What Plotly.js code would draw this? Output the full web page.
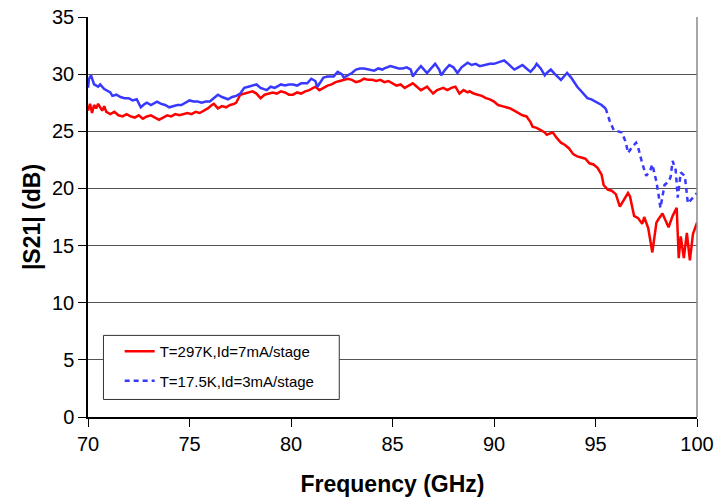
<!DOCTYPE html>
<html>
<head>
<meta charset="utf-8">
<script src="https://cdn.plot.ly/plotly-3.0.1.min.js"></script>
<style>html,body{margin:0;padding:0;background:#fff;}#chart{width:716px;height:497px;}</style>
</head>
<body>
<div id="chart"></div>
<script>
const redFreq = [70.0,70.1,70.2,70.3,70.4,70.5,70.6,70.7,70.8,70.9,71.1,71.3,71.5,71.7,71.9,72.1,72.3,72.5,72.7,72.9,73.1,73.3,73.5,73.7,73.9,74.1,74.3,74.5,74.7,74.9,75.1,75.3,75.5,75.7,75.9,76.1,76.2,76.4,76.6,76.8,77.0,77.2,77.3,77.5,77.7,77.9,78.1,78.3,78.5,78.7,78.9,79.1,79.3,79.5,79.7,79.9,80.1,80.3,80.5,80.7,80.9,81.1,81.2,81.4,81.6,81.8,82.0,82.2,82.4,82.6,82.8,83.0,83.2,83.4,83.6,83.8,84.0,84.2,84.4,84.6,84.8,85.0,85.2,85.4,85.6,85.8,86.0,86.2,86.4,86.6,86.7,86.9,87.0,87.2,87.4,87.5,87.7,87.9,88.1,88.3,88.5,88.7,88.8,89.0,89.2,89.4,89.6,89.8,90.0,90.2,90.4,90.6,90.8,91.0,91.2,91.4,91.6,91.8,91.9,92.1,92.3,92.5,92.6,92.8,92.9,93.1,93.3,93.5,93.7,93.9,94.1,94.3,94.5,94.7,94.9,95.1,95.3,95.4,95.6,95.8,96.0,96.2,96.4,96.6,96.7,96.9,97.1,97.3,97.4,97.6,97.8,98.0,98.1,98.3,98.4,98.6,98.8,99.0,99.1,99.2,99.35,99.5,99.65,99.8,100.0];
const redS21 = [26.8,27.4,26.6,27.3,27.0,27.4,27.1,26.8,27.2,26.7,26.5,26.7,26.4,26.3,26.5,26.3,26.2,26.4,26.1,26.3,26.4,26.2,26.0,26.2,26.4,26.3,26.5,26.4,26.5,26.6,26.5,26.7,26.6,26.8,27.0,27.3,27.4,27.0,27.2,27.1,27.3,27.4,27.5,28.2,28.3,28.4,28.5,28.3,27.9,28.2,28.3,28.4,28.3,28.5,28.4,28.2,28.2,28.4,28.3,28.5,28.6,28.8,28.9,28.6,28.8,29.0,29.1,29.3,29.4,29.5,29.6,29.5,29.3,29.4,29.6,29.5,29.5,29.4,29.5,29.3,29.4,29.2,29.0,29.1,28.8,29.0,29.2,28.9,28.6,28.8,28.9,28.5,28.3,28.6,28.7,28.8,28.6,28.8,28.9,28.3,28.6,28.4,28.5,28.3,28.2,28.1,27.9,27.8,27.6,27.3,27.2,27.1,27.0,26.8,26.6,26.4,26.3,25.8,25.4,25.3,25.1,24.9,24.7,24.8,24.9,24.4,24.0,23.8,23.5,23.0,22.8,22.7,22.6,22.2,22.1,21.8,21.2,20.3,19.9,19.8,19.5,18.4,19.0,19.6,19.3,17.6,17.4,16.9,17.5,16.5,14.4,17.0,17.3,17.8,17.4,16.6,17.6,18.3,13.9,15.8,13.9,16.1,13.7,16.0,17.0];

const blueFreq = [70.0,70.05,70.15,70.3,70.5,70.6,70.8,70.9,71.1,71.2,71.4,71.6,71.8,72.0,72.2,72.4,72.6,72.8,72.9,73.1,73.3,73.4,73.6,73.8,74.0,74.2,74.4,74.6,74.8,75.0,75.2,75.4,75.6,75.8,76.0,76.2,76.4,76.6,76.9,77.1,77.3,77.5,77.7,77.9,78.1,78.3,78.5,78.7,78.8,79.0,79.2,79.4,79.5,79.7,79.9,80.1,80.3,80.5,80.7,80.8,81.0,81.2,81.3,81.5,81.6,81.8,82.0,82.1,82.3,82.5,82.6,82.8,83.0,83.2,83.4,83.6,83.8,84.1,84.3,84.5,84.6,84.9,85.1,85.3,85.5,85.7,85.9,86.0,86.2,86.4,86.5,86.7,86.9,87.1,87.3,87.4,87.6,87.8,88.0,88.2,88.4,88.7,88.9,89.1,89.3,89.5,89.8,90.0,90.2,90.5,90.7,91.0,91.2,91.4,91.6,91.8,92.0,92.1,92.3,92.5,92.6,92.8,93.0,93.3,93.5,93.6,93.8,94.1,94.3,94.6,94.8,95.1,95.3,95.5,95.7,95.9,96.1,96.3,96.5,96.6,96.8,97.0,97.1,97.3,97.5,97.7,97.8,98.0,98.1,98.2,98.4,98.6,98.7,98.8,98.95,99.05,99.2,99.4,99.55,99.8,100.0];
const blueS21 = [28.8,29.6,29.9,29.1,28.9,29.1,28.7,28.6,28.4,28.1,28.2,28.0,27.9,27.9,27.7,27.8,27.1,27.4,27.5,27.3,27.5,27.6,27.4,27.3,27.1,27.2,27.3,27.3,27.5,27.7,27.6,27.6,27.5,27.6,27.6,27.9,28.2,28.0,27.8,28.0,28.1,28.3,28.8,28.9,29.0,29.1,28.8,28.7,28.6,28.9,28.8,29.0,29.1,29.0,29.1,29.1,29.0,29.2,29.2,29.2,29.6,29.4,28.9,29.4,29.7,29.8,29.8,29.8,30.2,30.0,29.7,29.9,30.1,30.4,30.5,30.5,30.4,30.3,30.5,30.4,30.5,30.7,30.6,30.5,30.5,30.6,30.4,29.8,30.3,30.7,30.5,30.1,30.5,30.9,30.4,29.9,30.4,30.8,30.6,30.1,30.6,31.0,30.8,30.9,30.7,30.8,30.9,30.9,31.0,31.2,30.9,30.4,30.6,30.8,30.5,30.2,30.6,30.9,30.5,29.9,30.1,30.4,30.0,29.5,29.9,30.1,29.7,28.9,28.5,27.9,27.8,27.5,27.3,27.0,25.9,25.1,25.0,24.9,24.0,23.1,23.6,24.0,23.6,22.2,21.1,21.6,22.1,20.6,19.5,18.3,20.3,20.6,21.0,22.4,21.6,19.2,21.4,21.1,18.7,19.2,19.6];

const blueDashStart = 95.5;
const xTicks = [70, 75, 80, 85, 90, 95, 100];
const yTicks = [0, 5, 10, 15, 20, 25, 30, 35];
const seriesNames = ["T=297K,Id=7mA/stage", "T=17.5K,Id=3mA/stage"];

const splitIdx = blueFreq.indexOf(blueDashStart);
const FONT = "Liberation Sans, Arial, sans-serif";

const traces = [
  {x: redFreq, y: redS21, type: "scatter", mode: "lines", name: seriesNames[0],
   line: {color: "#ff0000", width: 2.5}, legendgroup: "r"},
  {x: blueFreq.slice(0, splitIdx + 1), y: blueS21.slice(0, splitIdx + 1), type: "scatter", mode: "lines",
   name: seriesNames[1], showlegend: false, legendgroup: "b",
   line: {color: "#3838ff", width: 2.5}},
  {x: blueFreq.slice(splitIdx), y: blueS21.slice(splitIdx), type: "scatter", mode: "lines",
   name: seriesNames[1], legendgroup: "b",
   line: {color: "#3838ff", width: 2.5, dash: "5px,4px"}}
];

const layout = {
  width: 716, height: 497,
  margin: {l: 88, r: 19, t: 17, b: 80, pad: 0},
  paper_bgcolor: "#ffffff", plot_bgcolor: "#ffffff",
  font: {family: FONT, color: "#000"},
  showlegend: true,
  legend: {x: 0.052, y: 0.205, xanchor: "left", yanchor: "top", bgcolor: "rgba(0,0,0,0)",
           borderwidth: 0, font: {size: 15, family: FONT}, tracegroupgap: 7, traceorder: "grouped"},
  xaxis: {range: [70, 100], tickvals: xTicks, ticktext: xTicks.map(String), ticks: "outside", ticklen: 8,
          tickcolor: "#000", tickwidth: 1, showline: true, linecolor: "#000", linewidth: 1.5,
          showgrid: false, zeroline: false, tickfont: {size: 20, family: FONT},
          title: {text: "<b>Frequency (GHz)</b>", font: {size: 23, family: FONT}, standoff: 22}},
  yaxis: {range: [0, 35], tickvals: yTicks, ticktext: yTicks.map(String), ticks: "outside", ticklen: 8,
          tickcolor: "#000", tickwidth: 1, showline: true, linecolor: "#000", linewidth: 1.5,
          showgrid: true, gridcolor: "#555", gridwidth: 1.3, zeroline: false,
          tickfont: {size: 20, family: FONT},
          title: {text: "<b>|S21| (dB)</b>", font: {size: 23, family: FONT}, standoff: 5}},
  shapes: [
    {type: "line", xref: "paper", yref: "paper", x0: 1, x1: 1, y0: 0, y1: 1,
     line: {color: "#888", width: 1.5}},
    {type: "rect", xref: "paper", yref: "paper", x0: 0.0254, x1: 0.4126, y0: 0.0438, y1: 0.204,
     line: {color: "#333", width: 1}, fillcolor: "rgba(255,255,255,1)", layer: "above"}
  ]
};

Plotly.newPlot("chart", traces, layout, {displayModeBar: false});
</script>
</body>
</html>
